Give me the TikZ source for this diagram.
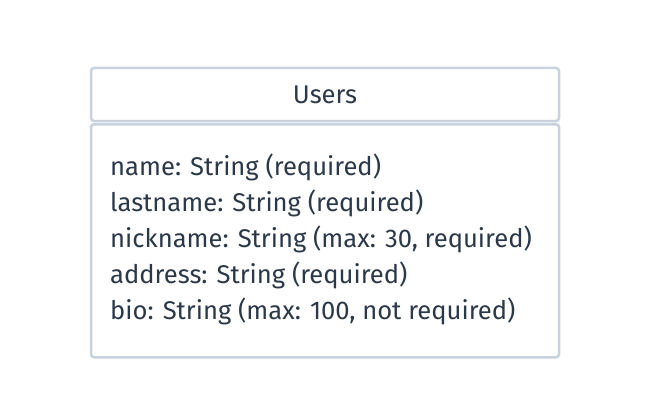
\documentclass[tikz,border=0pt]{standalone}
\usepackage{fontspec}
\setmainfont{Fira Sans}
\usetikzlibrary{positioning}
\definecolor{frameGray}{RGB}{200,210,220}
\definecolor{inkSlate}{RGB}{43,56,72}

\begin{document}
\begin{tikzpicture}[x=1pt, y=1pt,
            entity/.style={draw=frameGray, line width=2.5pt, rounded corners=3pt, fill=white, inner sep=0pt},
            attr/.style={text=inkSlate, font=\fontsize{25.6}{30}\selectfont, anchor=base west, inner sep=0pt}
        ]
            \useasboundingbox (0,0) rectangle (661,408);
            % Table header
            \node (users) at (325,313.5) [entity, minimum width=468pt, minimum height=53pt] {};
            \node (title) at (325,304.5) [attr, anchor=base] {Users};
            % Table body
            \node (fields) at (325,285) [entity, anchor=north, minimum width=468pt, minimum height=233pt] {};
            % Attribute lines
            \node (name) at (110,232.5) [attr] {name: String (required)};
            \node (lastname) at (110,196.5) [attr] {lastname: String (required)};
            \node (nickname) at (110,160.5) [attr] {nickname: String (max: 30, required)};
            \node (address) at (110,124.5) [attr] {address: String (required)};
            \node (bio) at (110,88.5) [attr] {bio: String (max: 100, not required)};
        \end{tikzpicture}
\end{document}
